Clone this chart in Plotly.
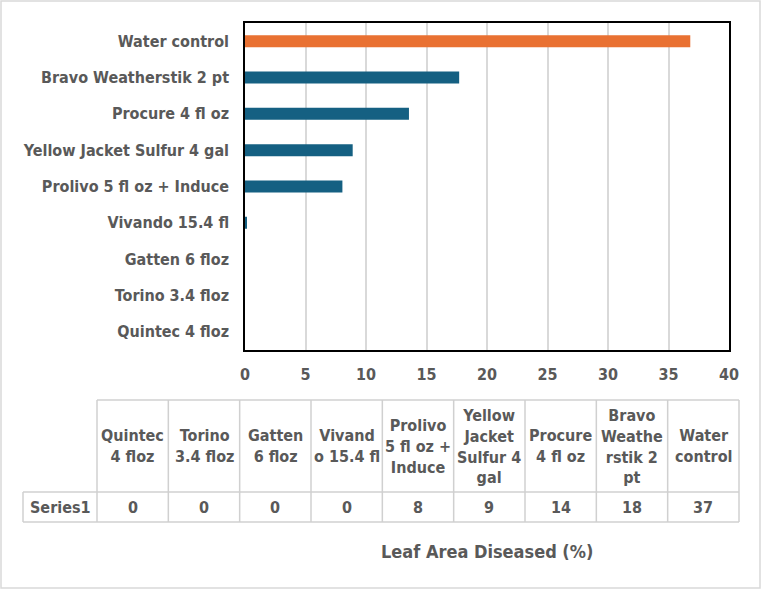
import plotly.graph_objects as go

categories = ["Quintec 4 floz", "Torino 3.4 floz", "Gatten 6 floz", "Vivando 15.4 fl",
              "Prolivo 5 fl oz + Induce", "Yellow Jacket Sulfur 4 gal", "Procure 4 fl oz",
              "Bravo Weatherstik 2 pt", "Water control"]
table_labels = ["Quintec<br>4 floz", "Torino<br>3.4 floz", "Gatten<br>6 floz", "Vivand<br>o 15.4 fl",
                "Prolivo<br>5 fl oz +<br>Induce", "Yellow<br>Jacket<br>Sulfur 4<br>gal", "Procure<br>4 fl oz",
                "Bravo<br>Weathe<br>rstik 2<br>pt", "Water<br>control"]
values = [0, 0, 0, 0.15, 8.05, 8.9, 13.55, 17.7, 36.8]
series_name = "Series1"
x_ticks = [0, 5, 10, 15, 20, 25, 30, 35, 40]
axis_title = "Leaf Area Diseased (%)"

W, H = 762, 590
FONT = "DejaVu Sans Condensed, Liberation Sans Narrow, Liberation Sans, Arial, sans-serif"
TXT = "#595959"
GRID = "#d9d9d9"
BLUE = "#156082"
ORANGE = "#E97132"

def px(x):
    return x / W

def py(y):
    return 1 - y / H

colors = [ORANGE if c == "Water control" else BLUE for c in categories]

fig = go.Figure(go.Bar(
    x=values, y=categories, orientation="h",
    marker=dict(color=colors, line=dict(width=0)),
    width=0.33, name=series_name,
))

shapes = []
annotations = []

# outer chart border
shapes.append(dict(type="rect", xref="paper", yref="paper",
                   x0=px(1), x1=px(760), y0=py(588), y1=py(1),
                   line=dict(color=GRID, width=1.5)))

# data table geometry
col_edges = [97 + i * (739 - 97) / len(categories) for i in range(len(categories) + 1)]
top_y, mid_y, bot_y, left_x = 400, 492, 522, 23
LC = "#d0d0d0"
def hline(x0, x1, y):
    shapes.append(dict(type="line", xref="paper", yref="paper", x0=px(x0), x1=px(x1),
                       y0=py(y), y1=py(y), line=dict(color=LC, width=1.5)))
def vline(x, y0, y1):
    shapes.append(dict(type="line", xref="paper", yref="paper", x0=px(x), x1=px(x),
                       y0=py(y0), y1=py(y1), line=dict(color=LC, width=1.5)))
hline(col_edges[0], col_edges[-1], top_y)
hline(left_x, col_edges[-1], mid_y)
hline(left_x, col_edges[-1], bot_y)
vline(left_x, mid_y, bot_y)
for xe in col_edges:
    vline(xe, top_y, bot_y)

for i, (lab, v) in enumerate(zip(table_labels, values)):
    cx = (col_edges[i] + col_edges[i + 1]) / 2
    annotations.append(dict(xref="paper", yref="paper", x=px(cx), y=py((top_y + mid_y) / 2),
                            text=f"<b>{lab}</b>", showarrow=False, xanchor="center", yanchor="middle",
                            font=dict(size=16, color=TXT, family=FONT)))
    annotations.append(dict(xref="paper", yref="paper", x=px(cx), y=py((mid_y + bot_y) / 2),
                            text=f"<b>{v:.0f}</b>", showarrow=False, xanchor="center", yanchor="middle",
                            font=dict(size=16, color=TXT, family=FONT)))
annotations.append(dict(xref="paper", yref="paper", x=px((left_x + col_edges[0]) / 2), y=py((mid_y + bot_y) / 2),
                        text=f"<b>{series_name}</b>", showarrow=False, xanchor="center", yanchor="middle",
                        font=dict(size=16, color=TXT, family=FONT)))
annotations.append(dict(xref="paper", yref="paper", x=px(487), y=py(551),
                        text=f"<b>{axis_title}</b>", showarrow=False, xanchor="center", yanchor="middle",
                        font=dict(size=18, color=TXT, family=FONT)))

fig.update_layout(
    width=W, height=H, margin=dict(l=0, r=0, t=0, b=0, pad=0, autoexpand=False),
    paper_bgcolor="white", plot_bgcolor="white", showlegend=False,
    font=dict(family=FONT, color=TXT),
    xaxis=dict(domain=[px(245), px(729)], range=[0, 40], tickvals=x_ticks,
               ticktext=[f"<b>{t}</b>" for t in x_ticks], automargin=False,
               showgrid=True, gridcolor=GRID, gridwidth=1.5, zeroline=False,
               showline=True, mirror=True, linecolor="black", linewidth=1.5,
               ticks="", ticklabelstandoff=9, tickfont=dict(size=16, color=TXT, family=FONT),
               fixedrange=True),
    yaxis=dict(domain=[py(350), py(23)], type="category", categoryorder="array",
               categoryarray=categories, automargin=False,
               tickvals=categories, ticktext=[f"<b>{c}</b>" for c in categories],
               showgrid=False, zeroline=False,
               showline=True, mirror=True, linecolor="black", linewidth=1.5,
               ticks="", ticklabelstandoff=11, tickfont=dict(size=16, color=TXT, family=FONT),
               fixedrange=True),
    shapes=shapes, annotations=annotations,
)

fig.write_html("out.html", config={"displayModeBar": False},
               post_script="document.body.style.margin='0';document.body.style.overflow='hidden';")
